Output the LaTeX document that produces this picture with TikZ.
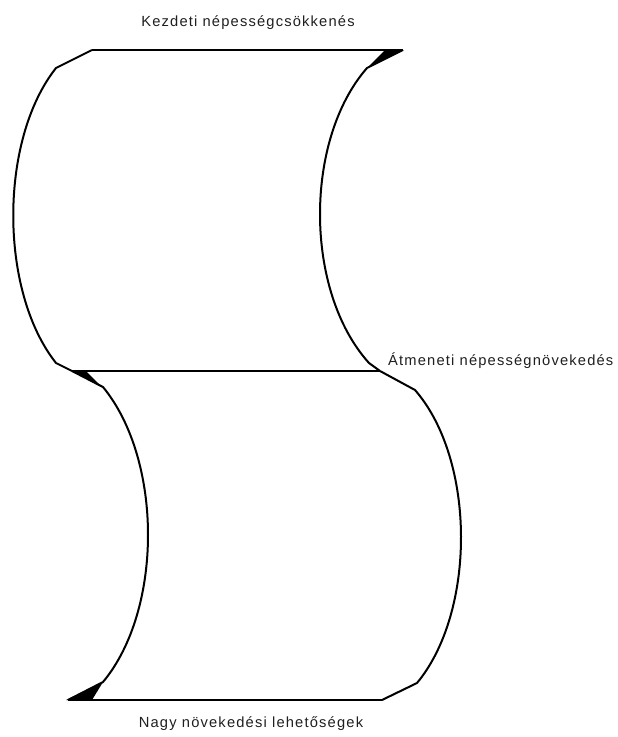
\documentclass[tikz,border=0pt]{standalone}
\usepackage{fontspec}
\setmainfont{Liberation Sans}
\begin{document}
\begin{tikzpicture}[x=1pt,y=-1pt,
  edge/.style={line width=2pt,black},
  wedge/.style={fill=black},
  lbl/.style={font=\fontsize{14.7}{17}\selectfont\addfontfeatures{LetterSpace=8},text=black!88,inner sep=0pt}]
\useasboundingbox (0,0) rectangle (618,737);
% upper scroll
\draw[edge] (92,50) -- (403,50);
\draw[edge] (92,50) -- (56,68) .. controls (-1,140) and (-1,291) .. (56,363) -- (72,371);
\draw[edge] (403,50) -- (367,68) .. controls (304,140) and (304,291) .. (369,363) -- (380,371);
\draw[edge] (72,371) -- (380,371);
% lower scroll
\draw[edge] (72,371) -- (103,387) .. controls (163,460) and (163,610) .. (103,682) -- (68,700);
\draw[edge] (380,371) -- (415,390) .. controls (476,460) and (476,612) .. (417,683) -- (382,700);
\draw[edge] (68,700) -- (382,700);
% wedges
\fill[wedge] (404,50) -- (384,51) -- (367,68) -- cycle;
\fill[wedge] (70,370) -- (86,371) -- (103,388) -- cycle;
\fill[wedge] (66,700) -- (92,700) -- (103,682) -- cycle;
% labels
\node[lbl,anchor=base] (top) at (248,26) {Kezdeti népességcsökkenés};
\node[lbl,anchor=base west] (mid) at (388,365) {Átmeneti népességnövekedés};
\node[lbl,anchor=base] (bot) at (251,727) {Nagy növekedési lehetőségek};
\end{tikzpicture}
\end{document}
